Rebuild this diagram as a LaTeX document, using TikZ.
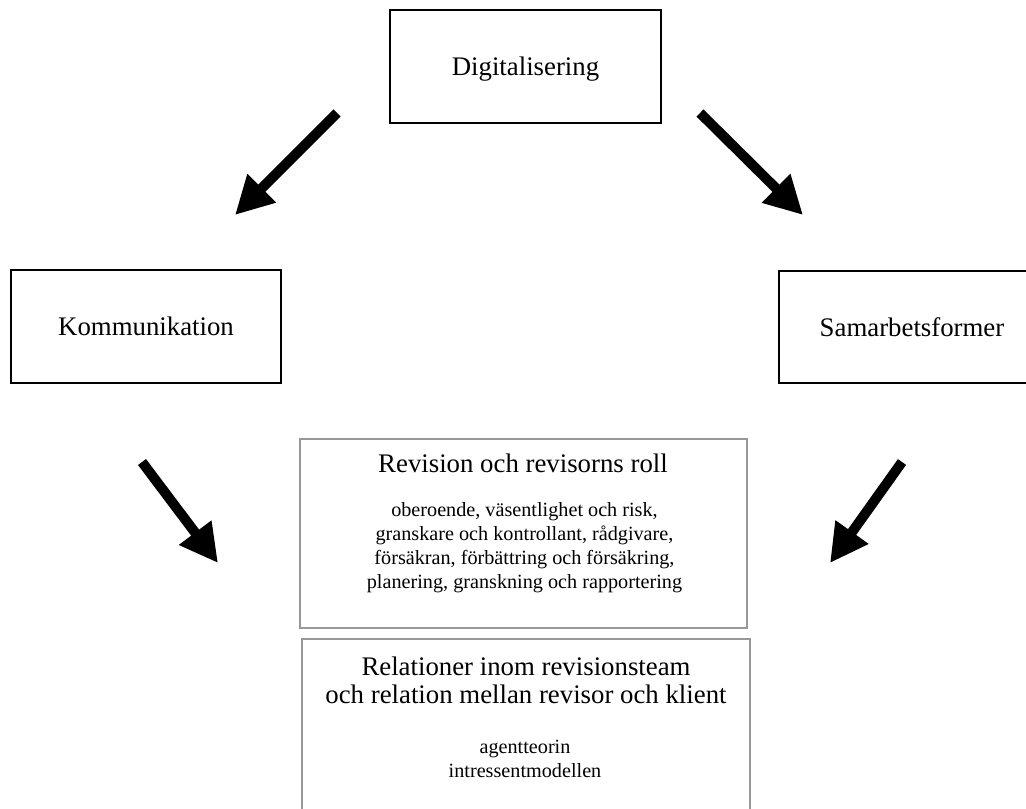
\documentclass[tikz,border=0pt]{standalone}
\usepackage{fontspec}
\setmainfont{Liberation Serif}
\usetikzlibrary{arrows.meta}
\definecolor{boxgray}{RGB}{150,152,156}
\begin{document}
\begin{tikzpicture}[x=1pt,y=-1pt,
  blackbox/.style={draw=black, line width=2.6pt, rectangle, inner sep=0pt,
    font=\fontsize{26.8}{30}\selectfont, text height=18.3pt, text depth=0pt},
  graybox/.style={draw=boxgray, line width=2.4pt, rectangle, inner sep=0pt},
  titletext/.style={inner sep=0pt, anchor=base, align=center},
  bodytext/.style={inner sep=0pt, anchor=base, align=center},
  bigarrow/.style={draw=black, line width=10pt, line cap=butt,
    -{Triangle[length=38pt,width=38pt]}}
]
\useasboundingbox (0,0) rectangle (1026,809);
% top-level boxes
\node[blackbox, minimum width=271pt, minimum height=113pt] (dig) at (525.5,66.5) {Digitalisering};
\node[blackbox, minimum width=270pt, minimum height=113pt] (kom) at (146,326.5) {Kommunikation};
\node[blackbox, minimum width=266pt, minimum height=112pt] (sam) at (912,327) {Samarbetsformer};
% gray boxes
\node[graybox, minimum width=447pt, minimum height=189pt] (rev) at (523.5,533.5) {};
\node[graybox, minimum width=448pt, minimum height=200pt] (rel) at (526,739) {};
% texts in gray boxes (base anchor = baseline of last line)
\node[titletext, font=\fontsize{26.8}{30}\selectfont] (revtitle) at (523,472) {Revision och revisorns roll};
\node[bodytext, font=\fontsize{20.2}{23.7}\selectfont] (revbody) at (524.5,588)
  {oberoende, väsentlighet och risk,\\granskare och kontrollant, rådgivare,\\försäkran, förbättring och försäkring,\\planering, granskning och rapportering};
\node[titletext, font=\fontsize{26.8}{28}\selectfont] (reltitle) at (526,703)
  {Relationer inom revisionsteam\\och relation mellan revisor och klient};
\node[bodytext, font=\fontsize{20.2}{24}\selectfont] (relbody) at (525,777)
  {agentteorin\\intressentmodellen};
% arrow end points
\coordinate (a1s) at (337,113); \coordinate (a1e) at (235,215);
\coordinate (a2s) at (700,113); \coordinate (a2e) at (803,215);
\coordinate (a3s) at (142,462); \coordinate (a3e) at (218,563);
\coordinate (a4s) at (902,462); \coordinate (a4e) at (830,563);
\draw[bigarrow] (a1s) -- (a1e);
\draw[bigarrow] (a2s) -- (a2e);
\draw[bigarrow] (a3s) -- (a3e);
\draw[bigarrow] (a4s) -- (a4e);
\end{tikzpicture}
\end{document}
